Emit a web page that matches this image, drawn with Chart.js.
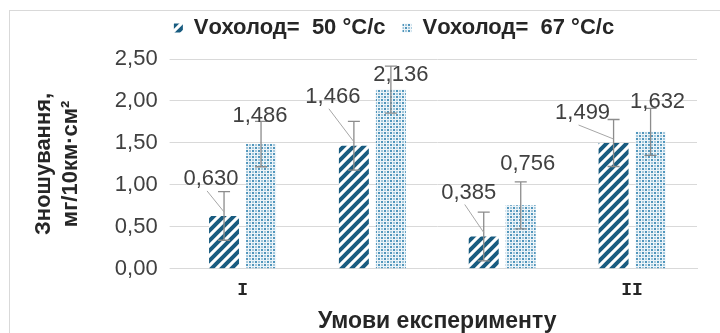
<!DOCTYPE html>
<html>
<head>
<meta charset="utf-8">
<script src="https://cdn.jsdelivr.net/npm/chart.js@4.4.1/dist/chart.umd.min.js"></script>
<style>
  body { margin: 0; background: #fff; }
  #wrap { position: relative; width: 720px; height: 333px; }
  #frame { position: absolute; left: 9px; top: 10px; width: 720px; height: 330px;
           border-left: 1px solid #d9d9d9; border-top: 1px solid #d9d9d9; }
  canvas { position: absolute; left: 0; top: 0; }
</style>
</head>
<body>
<div id="wrap">
  <div id="frame"></div>
  <canvas id="myChart" width="720" height="333"></canvas>
</div>
<script>
const categories = ['I', '', '', 'II'];
const seriesNames = ['Vохолод=  50 °C/c', 'Vохолод=  67 °C/c'];
const wear50 = [0.630, 1.466, 0.385, 1.499];
const wear67 = [1.486, 2.136, 0.756, 1.632];
const err50 = [0.29, 0.29, 0.29, 0.28];
const err67 = [0.27, 0.28, 0.28, 0.28];
const yTicks = [0, 0.5, 1, 1.5, 2, 2.5];

// label offsets from bar top (px)
const labelShift = [
    [[-13, -37], [-21, -49], [-15, -44], [-31, -30]],
    [[-1, -28], [10, -15], [7, -41], [7, -30]]
];

function stripes() {
    const c = document.createElement('canvas');
    c.width = 10; c.height = 10;
    const g = c.getContext('2d');
    g.fillStyle = '#fff';
    g.fillRect(0, 0, 10, 10);
    g.strokeStyle = '#195c80';
    g.lineWidth = 4;
    g.beginPath();
    for (let k = -10; k <= 20; k += 10) {
        g.moveTo(k - 2, 12);
        g.lineTo(k + 12, -2);
    }
    g.stroke();
    return g.createPattern(c, 'repeat');
}

function dots() {
    const c = document.createElement('canvas');
    c.width = 6; c.height = 6;
    const g = c.getContext('2d');
    g.fillStyle = '#eef5f9';
    g.fillRect(0, 0, 6, 6);
    g.fillStyle = '#5196bc';
    g.fillRect(0, 0, 2, 2);
    g.fillRect(3, 3, 2, 2);
    g.fillStyle = '#a3c7db';
    g.fillRect(3, 0, 2, 2);
    g.fillRect(0, 3, 2, 2);
    return g.createPattern(c, 'repeat');
}

const errs = [err50, err67];

// extra space under the legend and move it a bit right
const legendFix = {
    id: 'legendFix',
    beforeLayout(chart) {
        const lg = chart.legend;
        if (lg && !lg._patched) {
            const fit = lg.fit;
            lg.fit = function () { fit.call(this); this.height += 10; };
            lg._patched = true;
        }
    },
    afterLayout(chart) {
        chart.legend.left += 30;
        chart.legend.right += 30;
    }
};

const extras = {
    id: 'extras',
    afterDatasetsDraw(chart) {
        const ctx = chart.ctx;
        const y = chart.scales.y;
        ctx.save();
        chart.data.datasets.forEach((ds, di) => {
            const meta = chart.getDatasetMeta(di);
            meta.data.forEach((bar, i) => {
                const v = ds.data[i];
                const e = errs[di][i];
                const yt = y.getPixelForValue(v + e);
                const yb = y.getPixelForValue(v - e);
                ctx.strokeStyle = '#8c8c8c';
                ctx.lineWidth = 1.3;
                ctx.beginPath();
                ctx.moveTo(bar.x, yt); ctx.lineTo(bar.x, yb);
                ctx.moveTo(bar.x - 6, yt); ctx.lineTo(bar.x + 6, yt);
                ctx.moveTo(bar.x - 6, yb); ctx.lineTo(bar.x + 6, yb);
                ctx.stroke();

                const lx = bar.x + labelShift[di][i][0];
                const ly = bar.y + labelShift[di][i][1];
                if (di === 0) {
                    ctx.strokeStyle = '#a6a6a6';
                    ctx.lineWidth = 1;
                    ctx.beginPath();
                    ctx.moveTo(lx - 4, ly + 12);
                    ctx.lineTo(bar.x, bar.y - 4);
                    ctx.stroke();
                }
                ctx.fillStyle = '#404040';
                ctx.font = '22px "Liberation Sans", Arial, sans-serif';
                ctx.textAlign = 'center';
                ctx.textBaseline = 'middle';
                ctx.fillText(v.toFixed(3).replace('.', ','), lx, ly);
            });
        });
        ctx.restore();
    }
};

new Chart(document.getElementById('myChart'), {
    type: 'bar',
    data: {
        labels: categories,
        datasets: [{
            label: seriesNames[0],
            data: wear50,
            backgroundColor: stripes(),
            borderWidth: 0
        }, {
            label: seriesNames[1],
            data: wear67,
            backgroundColor: dots(),
            borderWidth: 0
        }]
    },
    options: {
        responsive: false,
        animation: false,
        events: [],
        categoryPercentage: 0.57,
        barPercentage: 0.81,
        layout: { padding: { left: 31, right: 23, top: 0, bottom: -2 } },
        plugins: {
            tooltip: { enabled: false },
            legend: {
                position: 'top',
                labels: {
                    color: '#262626',
                    font: { family: '"Liberation Sans", Arial, sans-serif', size: 22, weight: 'bold' },
                    boxWidth: 9,
                    boxHeight: 9,
                    padding: 17
                }
            }
        },
        scales: {
            x: {
                grid: { display: false },
                border: { color: '#d9d9d9' },
                ticks: {
                    color: '#262626',
                    font: { family: '"Liberation Mono", "Courier New", monospace', size: 18, weight: 'bold' },
                    padding: 3
                },
                title: {
                    display: true,
                    text: 'Умови експерименту',
                    color: '#262626',
                    font: { family: '"Liberation Sans", Arial, sans-serif', size: 23, weight: 'bold' },
                    padding: { top: 3, bottom: 0 }
                }
            },
            y: {
                min: 0,
                max: 2.5,
                afterBuildTicks(axis) { axis.ticks = yTicks.map(v => ({ value: v })); },
                grid: { color: '#d9d9d9' },
                border: { display: false },
                ticks: {
                    color: '#404040',
                    font: { family: '"Liberation Sans", Arial, sans-serif', size: 22 },
                    padding: 12,
                    callback: v => v.toFixed(2).replace('.', ',')
                },
                title: {
                    display: true,
                    text: ['Зношування,', 'мг/10км·см²'],
                    color: '#262626',
                    font: { family: '"Liberation Sans", Arial, sans-serif', size: 22, weight: 'bold' },
                    padding: { top: 0, bottom: 19 }
                }
            }
        }
    },
    plugins: [legendFix, extras]
});
</script>
</body>
</html>
